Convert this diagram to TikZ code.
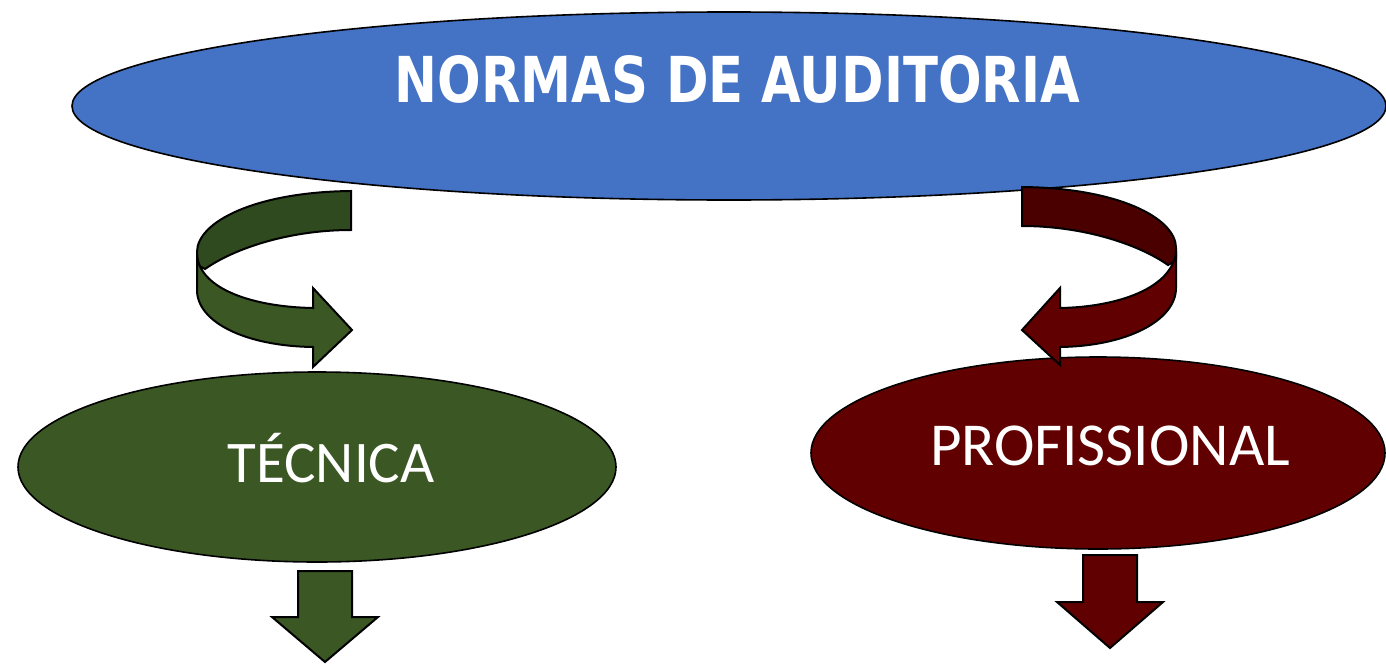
\documentclass[tikz,border=0pt]{standalone}
\usepackage{fontspec}
\setmainfont{Carlito}
\newfontfamily\titlefont{DejaVu Sans}
\usetikzlibrary{shapes.geometric}
\definecolor{blueA}{HTML}{4472C4}
\definecolor{greenA}{HTML}{3A5724}
\definecolor{greenB}{HTML}{2F4A1F}
\definecolor{redA}{HTML}{600000}
\definecolor{redB}{HTML}{4B0000}
\tikzset{
  ell/.style={ellipse, draw=black, line width=0.8pt, inner sep=0pt},
  shapeline/.style={draw=black, line width=1pt, line join=miter},
  lbl/.style={text=white, anchor=base, inner sep=0pt},
}
\begin{document}
\begin{tikzpicture}[x=0.5pt, y=-0.5pt]
\useasboundingbox (0,0) rectangle (1386,664);
% ellipses
\node[ell, fill=blueA, minimum width=657pt, minimum height=94pt] (top) at (729,106) {};
\node[ell, fill=greenA, minimum width=299pt, minimum height=95pt] (tec) at (317,467) {};
\node[ell, fill=redA, minimum width=287pt, minimum height=96pt] (pro) at (1098,453) {};
% texts
\node[lbl] (ttop) at (737.5,102) {\resizebox{342.5pt}{23.5pt}{\titlefont\bfseries NORMAS DE AUDITORIA}};
\node[lbl] (ttec) at (331,482) {\fontsize{29.5}{32}\selectfont TÉCNICA};
\node[lbl] (tpro) at (1110,465) {\fontsize{30.5}{32}\selectfont PROFISSIONAL};
% curved arrows
\begin{scope}[shift={(351,191)}]
  \path[shapeline, fill=greenB] (0,0) .. controls (-96,1) and (-154,31) .. (-154,61) -- (-154,71) .. controls (-152,75) .. (-146,78) .. controls (-116,57) and (-61,39) .. (0,39) -- cycle;
  \path[shapeline, fill=greenA] (-154,64) .. controls (-151,99) and (-96,116) .. (-38,117) -- (-38,97) -- (1,139) -- (-38,176) -- (-38,156) .. controls (-106,155) and (-154,131) .. (-154,99) -- cycle;
\end{scope}
\begin{scope}[shift={(1022,187)}, xscale=-1]
  \path[shapeline, fill=redB] (0,0) .. controls (-96,1) and (-154,31) .. (-154,61) -- (-154,71) .. controls (-152,75) .. (-146,78) .. controls (-116,57) and (-61,39) .. (0,39) -- cycle;
  \path[shapeline, fill=redA] (-154,64) .. controls (-151,101) and (-96,120) .. (-38,121) -- (-38,101) -- (0,143) -- (-38,178) -- (-38,160) .. controls (-106,159) and (-154,133) .. (-154,101) -- cycle;
\end{scope}
% down arrows
\coordinate (gd) at (325,571);
\coordinate (rd) at (1110,555);
\path[shapeline, fill=greenA] ([xshift=-13.5pt]gd) -- ([xshift=13.5pt]gd) -- ([xshift=13.5pt,yshift=-23pt]gd) -- ([xshift=26.5pt,yshift=-23pt]gd) -- ([yshift=-45.5pt]gd) -- ([xshift=-26.5pt,yshift=-23pt]gd) -- ([xshift=-13.5pt,yshift=-23pt]gd) -- cycle;
\path[shapeline, fill=redA] ([xshift=-13.5pt]rd) -- ([xshift=13.5pt]rd) -- ([xshift=13.5pt,yshift=-23.5pt]rd) -- ([xshift=26.5pt,yshift=-23.5pt]rd) -- ([yshift=-46.5pt]rd) -- ([xshift=-26.5pt,yshift=-23.5pt]rd) -- ([xshift=-13.5pt,yshift=-23.5pt]rd) -- cycle;
\end{tikzpicture}
\end{document}
